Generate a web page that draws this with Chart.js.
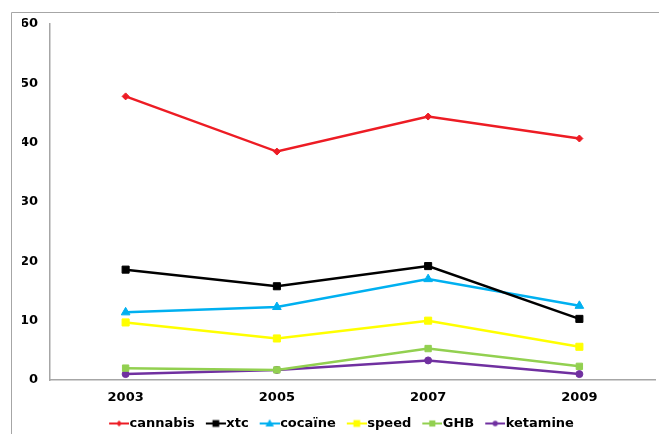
<!DOCTYPE html>
<html>
<head>
<meta charset="utf-8">
<script src="https://cdn.jsdelivr.net/npm/chart.js@4/dist/chart.umd.min.js"></script>
<style>
  html, body { margin: 0; padding: 0; background: #fff; overflow: hidden; }
  #wrap { position: relative; width: 661px; height: 434px; }
</style>
</head>
<body>
<div id="wrap"><canvas id="c"></canvas></div>
<script>
const categories = ['2003', '2005', '2007', '2009'];
const cannabis = [47.8, 38.5, 44.4, 40.7];
const xtc = [18.6, 15.8, 19.2, 10.3];
const cocaine = [11.4, 12.3, 17.0, 12.5];
const speed = [9.7, 7.0, 10.0, 5.6];
const ghb = [2.0, 1.7, 5.3, 2.3];
const ketamine = [1.0, 1.7, 3.3, 1.0];
const seriesNames = ['cannabis', 'xtc', 'cocaïne', 'speed', 'GHB', 'ketamine'];
const yTicks = [0, 10, 20, 30, 40, 50, 60];

const styles = [
  { color: '#ED1C24', point: 'rectRot', r: 3.5 },
  { color: '#000000', point: 'rect', r: 5 },
  { color: '#00B0F0', point: 'triangle', r: 5 },
  { color: '#FFFF00', point: 'rect', r: 5 },
  { color: '#92D050', point: 'rect', r: 4.5 },
  { color: '#7030A0', point: 'circle', r: 3.5 }
];
const values = [cannabis, xtc, cocaine, speed, ghb, ketamine];

function legendIcon(st) {
  const cv = document.createElement('canvas');
  cv.width = 26; cv.height = 12;
  const g = cv.getContext('2d');
  g.strokeStyle = st.color; g.fillStyle = st.color; g.lineWidth = 2;
  g.beginPath(); g.moveTo(6, 6); g.lineTo(26, 6); g.stroke();
  const cx = 16, cy = 6, r = st.r * 0.85;
  g.beginPath();
  if (st.point === 'rect') { g.rect(cx - r * 0.8, cy - r * 0.8, r * 1.6, r * 1.6); }
  else if (st.point === 'rectRot') { g.moveTo(cx, cy - r); g.lineTo(cx + r, cy); g.lineTo(cx, cy + r); g.lineTo(cx - r, cy); g.closePath(); }
  else if (st.point === 'triangle') { g.moveTo(cx, cy - r); g.lineTo(cx + r, cy + r * 0.7); g.lineTo(cx - r, cy + r * 0.7); g.closePath(); }
  else { g.arc(cx, cy, r * 0.9, 0, Math.PI * 2); }
  g.fill();
  return cv;
}

const datasets = values.map((v, i) => ({
  label: seriesNames[i],
  data: v,
  borderColor: styles[i].color,
  backgroundColor: styles[i].color,
  borderWidth: 2.5,
  pointStyle: styles[i].point,
  pointRadius: styles[i].r,
  pointBorderWidth: 1,
  pointBackgroundColor: styles[i].color,
  pointBorderColor: styles[i].color,
  tension: 0,
  legendIcon: legendIcon(styles[i])
}));

const framePlugin = {
  id: 'frame',
  beforeDraw(chart) {
    const ctx = chart.ctx;
    ctx.save();
    ctx.strokeStyle = '#a6a6a6';
    ctx.lineWidth = 1;
    ctx.beginPath();
    ctx.moveTo(11.5, 434);
    ctx.lineTo(11.5, 12.5);
    ctx.lineTo(chart.width, 12.5);
    ctx.stroke();
    ctx.restore();
  }
};

const font = { family: '"DejaVu Sans", Verdana, sans-serif', size: 13, weight: 'bold' };

new Chart(document.getElementById('c'), {
  type: 'line',
  data: { labels: categories, datasets },
  plugins: [framePlugin],
  options: {
    responsive: true,
    maintainAspectRatio: false,
    animation: false,
    layout: { padding: { left: 22, top: 24, right: 0, bottom: -6 } },
    plugins: {
      title: { display: false },
      tooltip: { enabled: false },
      legend: {
        position: 'bottom',
        labels: {
          usePointStyle: true,
          pointStyleWidth: 14,
          padding: 11,
          color: '#000',
          font,
          generateLabels(chart) {
            return chart.data.datasets.map((ds, i) => ({
              text: ds.label,
              pointStyle: ds.legendIcon,
              fillStyle: ds.borderColor,
              strokeStyle: ds.borderColor,
              lineWidth: 0,
              hidden: false,
              datasetIndex: i,
              fontColor: '#000'
            }));
          }
        }
      }
    },
    scales: {
      x: {
        offset: true,
        afterFit(axis) { axis.height = 26; },
        grid: { display: false, drawTicks: false },
        border: { display: true, color: '#a6a6a6', width: 1.5 },
        ticks: { color: '#000', font, padding: 10, maxRotation: 0 }
      },
      y: {
        min: 0, max: 60,
        afterFit(axis) { axis.width = 28; },
        afterBuildTicks(axis) { axis.ticks = yTicks.map(v => ({ value: v })); },
        grid: { display: false, drawTicks: false },
        border: { display: true, color: '#a6a6a6', width: 1.5 },
        ticks: { color: '#000', font, padding: 12, mirror: false }
      }
    }
  }
});
</script>
</body>
</html>
